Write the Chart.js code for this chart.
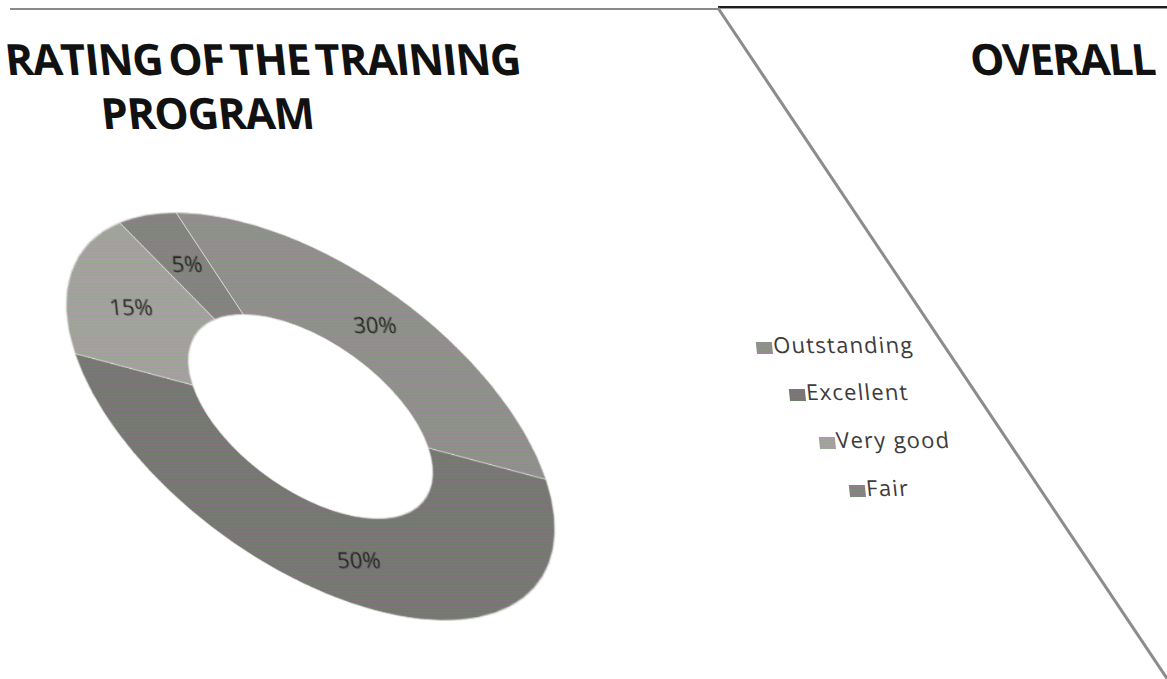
<!DOCTYPE html>
<html>
<head>
<meta charset="utf-8">
<script src="https://cdn.jsdelivr.net/npm/chart.js@4.4.1/dist/chart.umd.min.js"></script>
<style>
  html, body { margin: 0; padding: 0; background: #fff; }
  #page { position: relative; width: 1167px; height: 679px; overflow: hidden; background: #fff; }
  .rule { position: absolute; }
  .title {
    position: absolute; margin: 0; white-space: nowrap;
    font-family: "Open Sans", sans-serif; font-weight: 700; font-size: 43px;
    letter-spacing: -1px; word-spacing: -4px; color: #111;
    transform: skewX(6deg); transform-origin: 0 100%;
  }
  #chartBox { position: absolute; left: 106px; top: 212px; width: 409px; height: 409px;
    transform: skewX(33.4deg); transform-origin: 50% 50%; }
  .legend-item {
    position: absolute; white-space: nowrap; height: 26px; line-height: 26px;
    font-family: "Open Sans", sans-serif; font-size: 22px; letter-spacing: 1.2px; color: #3c3c3c;
    transform: skewX(6deg);
  }
  .legend-item i {
    display: inline-block; width: 16px; height: 12px; margin-right: 1px; vertical-align: -1px;
  }
</style>
</head>
<body>
<div id="page">
  <div class="rule" style="left:10px;top:8px;width:708px;height:2px;background:#8a8a8a"></div>
  <div class="rule" style="left:718px;top:6px;width:449px;height:2px;background:#1e1e1e"></div>
  <div class="rule" style="left:718px;top:8px;width:449px;height:1px;background:#9a9a9a"></div>
  <svg class="rule" style="left:0;top:0" width="1167" height="679">
    <line x1="718" y1="8" x2="1168" y2="680" stroke="#8c8c8c" stroke-width="3"/>
  </svg>

  <div class="title" style="left:8px;top:29px">RATING OF THE TRAINING</div>
  <div class="title" style="left:104px;top:83px">PROGRAM</div>
  <div class="title" style="left:973px;top:29px;letter-spacing:-1.2px;word-spacing:8px">OVERALL TRAINING</div>

  <div id="chartBox"><canvas id="myChart" width="409" height="409"></canvas></div>
  <div id="legend"></div>
</div>

<script>
let categories = ['Outstanding', 'Excellent', 'Very good', 'Fair'];
let values = [30, 50, 15, 5];
let sliceGrays = [[142, 142, 138], [118, 118, 114], [160, 160, 155], [130, 130, 126]];

// legend rows step down and to the right
let legendLeft = [756, 789, 819, 849];
let legendTop = [331, 378, 426, 474];

// chart canvas is sheared by this much through CSS
let chartShear = Math.tan(33.4 * Math.PI / 180);
let textShear = Math.tan(6 * Math.PI / 180);

function rgb(c, dr, dg, db) {
    return 'rgb(' + (c[0] + dr) + ',' + (c[1] + dg) + ',' + (c[2] + db) + ')';
}

// fine horizontal banding over the grey fills
function stripes(c) {
    let p = document.createElement('canvas');
    p.width = 4;
    p.height = 3;
    let g = p.getContext('2d');
    g.fillStyle = rgb(c, 0, 0, 0);
    g.fillRect(0, 0, 4, 1);
    g.fillStyle = rgb(c, 14, -4, 15);
    g.fillRect(0, 1, 4, 1);
    g.fillStyle = rgb(c, -8, 9, -9);
    g.fillRect(0, 2, 4, 1);
    return g.createPattern(p, 'repeat');
}

function cssStripes(c) {
    return 'repeating-linear-gradient(to bottom,' +
        rgb(c, 0, 0, 0) + ' 0px,' + rgb(c, 0, 0, 0) + ' 1px,' +
        rgb(c, 14, -4, 15) + ' 1px,' + rgb(c, 14, -4, 15) + ' 2px,' +
        rgb(c, -8, 9, -9) + ' 2px,' + rgb(c, -8, 9, -9) + ' 3px)';
}

let legendBox = document.getElementById('legend');
categories.forEach(function (name, i) {
    let item = document.createElement('div');
    item.className = 'legend-item';
    item.style.left = legendLeft[i] + 'px';
    item.style.top = legendTop[i] + 'px';
    let mark = document.createElement('i');
    mark.style.background = cssStripes(sliceGrays[i]);
    item.appendChild(mark);
    item.appendChild(document.createTextNode(name));
    legendBox.appendChild(item);
});

// percentage in the middle of each ring segment, un-sheared so the text stays upright
const sliceLabels = {
    id: 'sliceLabels',
    afterDatasetsDraw(chart) {
        let ctx = chart.ctx;
        let meta = chart.getDatasetMeta(0);
        let total = values.reduce(function (a, b) { return a + b; }, 0);
        ctx.save();
        ctx.font = '22px "Open Sans", sans-serif';
        ctx.fillStyle = '#222';
        ctx.textAlign = 'center';
        ctx.textBaseline = 'middle';
        meta.data.forEach(function (arc, i) {
            let p = arc.getProps(['x', 'y', 'startAngle', 'endAngle', 'innerRadius', 'outerRadius'], true);
            let mid = (p.startAngle + p.endAngle) / 2;
            let r = (p.innerRadius + p.outerRadius) / 2;
            ctx.save();
            ctx.translate(p.x + Math.cos(mid) * r, p.y + Math.sin(mid) * r);
            ctx.transform(1, 0, textShear - chartShear, 1, 0, 0);
            ctx.fillText(Math.round(values[i] / total * 100) + '%', 0, 0);
            ctx.restore();
        });
        ctx.restore();
    }
};

let ctx = document.getElementById('myChart').getContext('2d');
let chart = new Chart(ctx, {
    type: 'doughnut',
    data: {
        labels: categories,
        datasets: [{
            data: values,
            backgroundColor: sliceGrays.map(stripes),
            borderColor: 'rgba(228,228,226,0.85)',
            borderWidth: 1
        }]
    },
    options: {
        responsive: false,
        animation: false,
        cutout: '50%',
        layout: { padding: 0 },
        plugins: {
            legend: { display: false },
            tooltip: { enabled: false }
        }
    },
    plugins: [sliceLabels]
});
</script>
</body>
</html>
